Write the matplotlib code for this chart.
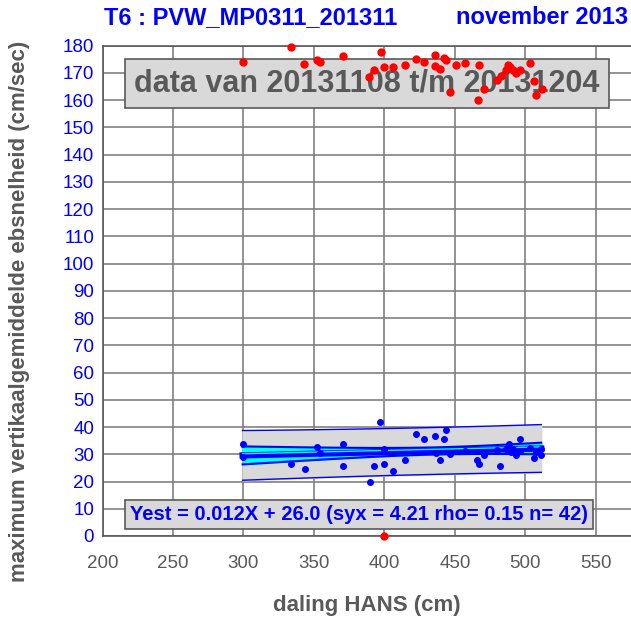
import matplotlib.pyplot as plt
import numpy as np

plt.rcParams['font.family'] = ['Liberation Sans', 'DejaVu Sans']

# gemeten punten: daling HANS (cm) en ebsnelheid (cm/sec)
x_blauw = [299.4, 299.4, 334.1, 343.5, 352.5, 354.1, 370.7, 370.7, 389.6, 392.4,
           397.2, 399.5, 399.5, 406.1, 414.4, 422.2, 428.1, 436.1, 436.3, 439.7,
           442.0, 443.4, 446.3, 457.4, 465.9, 467.0, 470.4, 479.8, 482.4, 486.0,
           487.6, 488.3, 490.0, 491.1, 493.5, 495.9, 496.4, 503.5, 506.0, 507.7,
           510.8, 511.3]
y_blauw = [33.7, 29.1, 26.5, 24.7, 32.8, 30.6, 33.7, 25.7, 19.7, 25.7,
           41.7, 26.5, 31.8, 23.9, 27.8, 37.6, 35.7, 36.7, 30.6, 27.8,
           35.7, 38.9, 30.0, 31.2, 27.9, 26.5, 29.7, 31.5, 25.7, 31.9,
           32.5, 33.7, 30.9, 32.0, 29.7, 31.3, 35.7, 32.2, 28.7, 31.0,
           31.8, 29.7]

x_rood = [299.4, 334.0, 343.3, 352.2, 354.3, 370.7, 389.4, 392.4, 397.4, 399.5,
          406.1, 414.4, 422.2, 427.9, 436.1, 436.1, 439.7, 442.2, 443.4, 446.3,
          450.5, 457.4, 466.3, 467.0, 470.6, 479.8, 482.9, 486.0, 487.6, 489.3,
          491.1, 493.5, 495.9, 503.5, 506.0, 507.7, 511.5, 400.0]
y_rood = [174.0, 179.6, 173.4, 174.6, 174.1, 176.1, 168.5, 171.1, 177.6, 172.1,
          172.1, 172.9, 175.0, 174.0, 176.7, 172.5, 171.6, 175.6, 174.7, 163.0,
          172.9, 173.5, 160.2, 172.9, 164.0, 167.5, 168.9, 171.1, 172.9, 172.3,
          171.1, 169.9, 171.1, 173.5, 167.1, 161.9, 164.0, 0.0]

# regressie zoals vermeld in de grafiek
helling = 0.012
intercept = 26.0
syx = 4.21
rho = 0.15
n = 42

xb = np.array(x_blauw)
xs = np.linspace(xb.min(), xb.max(), 100)
yfit = helling * xs + intercept
sxx = np.sum((xb - xb.mean()) ** 2)
t = 2.02
conf = t * syx * np.sqrt(1 / n + (xs - xb.mean()) ** 2 / sxx)
pred = t * syx * np.sqrt(1 + 1 / n + (xs - xb.mean()) ** 2 / sxx)

fig = plt.figure(figsize=(6.31, 6.21), dpi=100)
ax = fig.add_axes([102.5 / 631, 85 / 621, 1 - 102.5 / 631, (536 - 45.7) / 621])

ax.fill_between(xs, yfit - pred, yfit + pred, color='#d9d9d9', zorder=2)
ax.plot(xs, yfit - pred, color='blue', lw=1, zorder=3)
ax.plot(xs, yfit + pred, color='blue', lw=1, zorder=3)
ax.fill_between(xs, yfit - conf, yfit + conf, color='cyan', zorder=3)
ax.plot(xs, yfit - conf, color='blue', lw=1.5, zorder=4)
ax.plot(xs, yfit + conf, color='blue', lw=1.5, zorder=4)
ax.plot(xs, yfit, color='blue', lw=4.5, zorder=4)
ax.plot(xs, yfit + 0.6, color='cyan', lw=1, zorder=4)

ax.plot(x_blauw, y_blauw, 'o', color='blue', ms=4, zorder=5)
ax.plot(x_rood, y_rood, 'o', color='red', ms=5, zorder=8, clip_on=False)

ax.set_xlim(200, 575)
ax.set_ylim(0, 180)
ax.set_xticks(np.arange(200, 551, 50))
ax.set_yticks(np.arange(0, 181, 10))
ax.grid(True, color='#808080', lw=1.2)
ax.set_axisbelow(True)
ax.tick_params(length=0, labelsize=13.5, pad=6)
ax.tick_params(axis='y', labelcolor='blue')
ax.tick_params(axis='x', labelcolor='#595959', pad=14)
for s in ['left', 'bottom', 'top']:
    ax.spines[s].set_color('#595959')
    ax.spines[s].set_linewidth(1.2)
ax.spines['right'].set_visible(False)

ax.text(387.5, 166.1, 'data van 20131108 t/m 20131204', ha='center', va='center',
        fontsize=22, fontweight='bold', color='#595959', zorder=6,
        bbox=dict(boxstyle='square,pad=0.3', fc='#d9d9d9', ec='#595959', lw=1.2))
ax.text(381.8, 7.9,
        f'Yest = {helling:.3f}X + {intercept:.1f} (syx = {syx:.2f} rho= {rho:.2f} n= {n})',
        ha='center', va='center', fontsize=14.5, fontweight='bold', color='blue', zorder=6,
        bbox=dict(boxstyle='square,pad=0.25', fc='#d9d9d9', ec='#595959', lw=1.2))

fig.text(104 / 631, 1 - 18 / 621, 'T6 : PVW_MP0311_201311', ha='left', va='center',
         fontsize=17, fontweight='bold', color='blue')
fig.text(628 / 631, 1 - 18 / 621, 'november 2013', ha='right', va='center',
         fontsize=17, fontweight='bold', color='blue')
fig.text(366.7 / 631, 1 - 605 / 621, 'daling HANS (cm)', ha='center', va='center',
         fontsize=16, fontweight='bold', color='#595959')
fig.text(20 / 631, 1 - 311 / 621, 'maximum vertikaalgemiddelde ebsnelheid (cm/sec)',
         ha='center', va='center', rotation=90, fontsize=16, fontweight='bold',
         color='#595959')

fig.savefig('out.png', dpi=100)
